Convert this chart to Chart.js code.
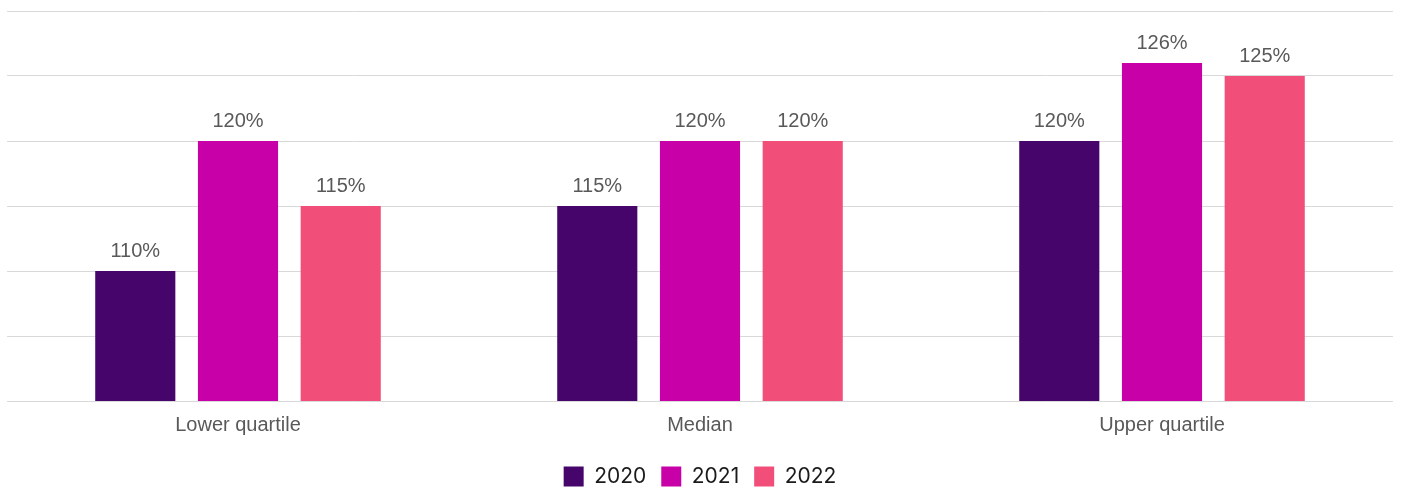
<!DOCTYPE html>
<html>
<head>
<meta charset="utf-8">
<script src="https://cdn.jsdelivr.net/npm/chart.js@4"></script>
<style>
  html, body { margin: 0; padding: 0; background: #fff; }
  #wrap { width: 1402px; height: 487px; }
</style>
</head>
<body>
<div id="wrap"><canvas id="myChart"></canvas></div>
<script>
'use strict';

var categories = ['Lower quartile', 'Median', 'Upper quartile'];
var years = ['2020', '2021', '2022'];
var values2020 = [110, 115, 120];
var values2021 = [120, 120, 126];
var values2022 = [115, 120, 125];
var colours = ['#45056A', '#C800A8', '#F14F7A'];

// percent labels over each bar
var barLabels = {
    id: 'barLabels',
    afterDatasetsDraw: function(chart) {
        var ctx = chart.ctx;
        ctx.save();
        ctx.font = '20px "Liberation Sans", Arial, sans-serif';
        ctx.fillStyle = '#595959';
        ctx.textAlign = 'center';
        ctx.textBaseline = 'alphabetic';
        chart.data.datasets.forEach(function(ds, i) {
            chart.getDatasetMeta(i).data.forEach(function(bar, j) {
                ctx.fillText(ds.data[j] + '%', bar.x, bar.y - 14);
            });
        });
        ctx.restore();
    }
};

var seriesValues = [values2020, values2021, values2022];
var datasets = years.map(function(y, i) {
    return {
        label: y,
        data: seriesValues[i],
        backgroundColor: colours[i],
        borderWidth: 0
    };
});

var ctx = document.getElementById('myChart');
var myChart = new Chart(ctx, {
    type: 'bar',
    data: {
        labels: categories,
        datasets: datasets
    },
    plugins: [barLabels],
    options: {
        responsive: true,
        maintainAspectRatio: false,
        animation: false,
        layout: {
            padding: { top: 11, left: 7, right: 9, bottom: 0 }
        },
        datasets: {
            bar: {
                categoryPercentage: 0.667,
                barPercentage: 0.78
            }
        },
        scales: {
            x: {
                grid: { display: false, drawTicks: false },
                border: { display: false },
                ticks: {
                    color: '#595959',
                    padding: 12,
                    font: { family: '"Liberation Sans", Arial, sans-serif', size: 20 }
                },
                afterFit: function(scale) { scale.height = 50; }
            },
            y: {
                min: 100,
                max: 130,
                ticks: { display: false, stepSize: 5 },
                border: { display: false },
                grid: { color: '#D9D9D9', lineWidth: 1, drawTicks: false }
            }
        },
        plugins: {
            tooltip: { enabled: false },
            legend: {
                position: 'bottom',
                maxHeight: 36,
                labels: {
                    boxWidth: 20,
                    boxHeight: 20,
                    padding: 15,
                    color: '#1a1a1a',
                    font: { family: 'Inter, sans-serif', size: 21 }
                }
            }
        }
    }
});
</script>
</body>
</html>
